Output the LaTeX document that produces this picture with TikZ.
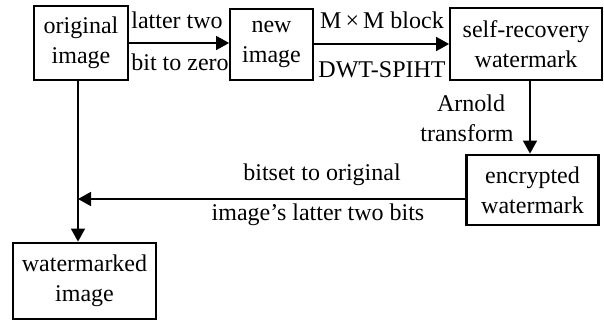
\documentclass[tikz,border=0pt]{standalone}
\usepackage{fontspec}
\setmainfont{Liberation Serif}
\usetikzlibrary{arrows.meta}
\begin{document}
\begin{tikzpicture}[x=0.5pt,y=-0.5pt,
  every node/.style={font=\fontsize{12}{15}\selectfont, inner sep=0pt, align=center},
  box/.style={draw, line width=0.9pt},
  thickbox/.style={draw, line width=1.4pt},
  conn/.style={line width=0.8pt, -{Triangle[length=6.5pt,width=7pt]}},
  lbl/.style={}]
\useasboundingbox (0,0) rectangle (604,321);
% boxes
\node[box, minimum width=47pt, minimum height=37pt] (orig) at (81,43) {original\\image};
\node[box, minimum width=41.5pt, minimum height=35.5pt] (new) at (271.5,44.5) {new\\image};
\node[box, minimum width=76pt, minimum height=36pt] (self) at (526,44) {self-recovery\\watermark};
\node[thickbox, minimum width=66pt, minimum height=35pt] (enc) at (532.5,190) {encrypted\\watermark};
\node[thickbox, minimum width=71.5pt, minimum height=38pt] (wm) at (84.5,281) {watermarked\\image};
% helper coordinates
\coordinate (j) at (78,199);
\coordinate (a) at (530,120);
% connectors
\draw[conn] (orig.east) -- (orig.east -| new.west);
\draw[conn] (new.east |- self.west) -- (self.west);
\draw[conn] (self.south -| a) -- (enc.north -| a);
\draw[conn] (enc.west |- j) -- (j);
\draw[conn] (orig.south -| j) -- (wm.north -| j);
% labels
\node[lbl] (l1) at (177,20) {latter two};
\node[lbl] (l2) at (180,62) {bit to zero};
\node[lbl] (l3) at (382,20) {M\hspace{2pt}×\hspace{2pt}M block};
\node[lbl] (l4) at (382,70) {DWT-SPIHT};
\node[lbl] (l5) at (471,103) {Arnold};
\node[lbl] (l6) at (467,133) {transform};
\node[lbl] (l7) at (322,175) {bitset to original};
\node[lbl] (l8) at (318,215) {image’s latter two bits};
\end{tikzpicture}
\end{document}
